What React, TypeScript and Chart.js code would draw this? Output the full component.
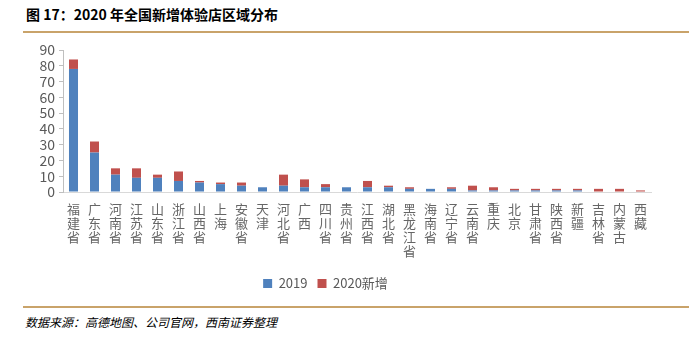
import React, { useEffect, useRef } from "react";
import { Chart, registerables } from "chart.js";

Chart.register(...registerables);

const categories = ["福建省","广东省","河南省","江苏省","山东省","浙江省","山西省","上海","安徽省","天津","河北省","广西","四川省","贵州省","江西省","湖北省","黑龙江省","海南省","辽宁省","云南省","重庆","北京","甘肃省","陕西省","新疆","吉林省","内蒙古","西藏"];
const stores2019 = [78,25,11,9,9,7,6,5,4,3,4,3,3,3,3,3,2,2,2,1,1,1,1,1,1,0,0,0];
const new2020 = [6,7,4,6,2,6,1,1,2,0,7,5,2,0,4,1,1,0,1,3,2,1,1,1,1,2,2,1];
const seriesNames = ["2019", "2020新增"];
const yMin = 0;
const yMax = 90;
const yStep = 10;

const titleText = "图 17：2020 年全国新增体验店区域分布";
const sourceText = "数据来源：高德地图、公司官网，西南证券整理";

const FONT = "'Noto Sans CJK SC', 'Noto Sans', sans-serif";

export default function App() {
  const ref = useRef<HTMLCanvasElement | null>(null);
  useEffect(() => {
    if (!ref.current) return;
    const chart = new Chart(ref.current, {
      type: "bar",
      data: {
        labels: categories.map((c) => c.split("")),
        datasets: [
          { label: seriesNames[0], data: stores2019, backgroundColor: "#4F81BD", barPercentage: 0.43, categoryPercentage: 1 },
          { label: seriesNames[1], data: new2020, backgroundColor: "#C0504D", barPercentage: 0.43, categoryPercentage: 1 },
        ],
      },
      options: {
        animation: false,
        responsive: false,
        maintainAspectRatio: false,
        layout: { padding: { left: 0, right: 38, top: 15, bottom: 0 } },
        plugins: {
          tooltip: { enabled: false },
          legend: {
            position: "bottom",
            labels: {
              boxWidth: 9,
              boxHeight: 9,
              padding: 10,
              color: "#595959",
              font: { family: FONT, size: 13 },
            },
          },
        },
        scales: {
          x: {
            stacked: true,
            grid: { display: false },
            border: { display: true, color: "#D9D9D9", width: 1 },
            ticks: {
              autoSkip: false,
              maxRotation: 0,
              minRotation: 0,
              padding: 2,
              color: "#666666",
              font: { family: FONT, size: 13, lineHeight: 1.08 },
            },
            afterFit: (s: any) => { s.height = 75; },
          },
          y: {
            stacked: true,
            min: yMin,
            max: yMax,
            ticks: {
              stepSize: yStep,
              autoSkip: false,
              padding: 4,
              color: "#595959",
              font: { family: FONT, size: 14 },
            },
            grid: { display: true, drawOnChartArea: false, drawTicks: true, tickLength: 4, color: "#BFBFBF" },
            border: { display: true, color: "#BFBFBF" },
            afterFit: (s: any) => { s.width = 63; },
          },
        },
      },
    });
    return () => chart.destroy();
  }, []);

  return (
    <div style={{ position: "fixed", left: 0, top: 0, width: 689, height: 338, background: "#fff", overflow: "hidden" }}>
      <div style={{ position: "absolute", left: 26, top: 4, fontFamily: FONT, fontWeight: 700, fontSize: 14, color: "#000", whiteSpace: "nowrap" }}>
        {titleText}
      </div>
      <div style={{ position: "absolute", left: 23, top: 31, width: 666, height: 2, background: "#C9A36A" }} />
      <canvas ref={ref} width={689} height={265} style={{ position: "absolute", left: 0, top: 35, width: 689, height: 265 }} />
      <div style={{ position: "absolute", left: 23, top: 306, width: 666, height: 2, background: "#C9A36A" }} />
      <div style={{ position: "absolute", left: 25, top: 313, fontFamily: FONT, fontStyle: "italic", fontSize: 12, color: "#000", whiteSpace: "nowrap" }}>
        {sourceText}
      </div>
    </div>
  );
}
